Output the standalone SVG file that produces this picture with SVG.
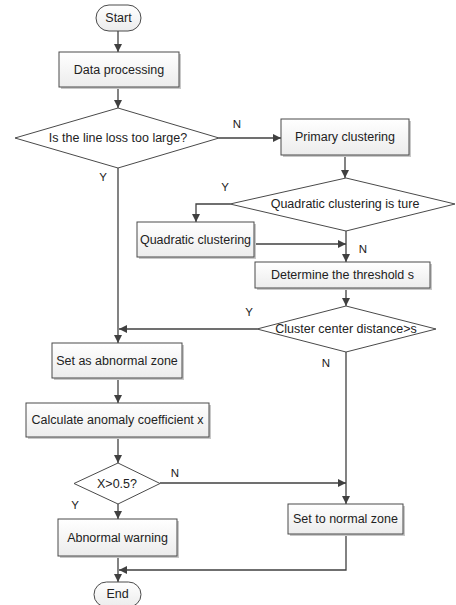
<svg xmlns="http://www.w3.org/2000/svg" width="456" height="605" viewBox="0 0 456 605">
<defs>
<linearGradient id="g" x1="0" y1="0" x2="0" y2="1"><stop offset="0" stop-color="#ffffff"/><stop offset="1" stop-color="#ececec"/></linearGradient>
<marker id="a" viewBox="0 0 10 10" refX="10" refY="5" markerWidth="8" markerHeight="8" markerUnits="userSpaceOnUse" orient="auto"><path d="M0,0 L10,5 L0,10 z" fill="#404040"/></marker>
</defs>
<style>
.box{fill:url(#g);stroke:#4a4a4a;stroke-width:1}
.sh{fill:#c8c8c8}
.dia{fill:#ffffff;stroke:#4a4a4a;stroke-width:1}
.t{font-family:"Liberation Sans",Arial,sans-serif;font-size:12.5px;fill:#222;text-anchor:middle;dominant-baseline:central}
.l{font-family:"Liberation Sans",Arial,sans-serif;font-size:11.5px;fill:#222;text-anchor:middle;dominant-baseline:central}
.c{fill:none;stroke:#404040;stroke-width:1.3}
</style>
<rect width="456" height="605" fill="#ffffff"/>
<g id="connectors">
<path class="c" d="M118,31 V52" marker-end="url(#a)"/>
<path class="c" d="M118,88 V108" marker-end="url(#a)"/>
<path class="c" d="M219,138 H281" marker-end="url(#a)"/>
<path class="c" d="M118,168 V343" marker-end="url(#a)"/>
<path class="c" d="M345,156 V178" marker-end="url(#a)"/>
<path class="c" d="M230,204 H196 V222" marker-end="url(#a)"/>
<path class="c" d="M255,244 H346" marker-end="url(#a)"/>
<path class="c" d="M346,231 V262" marker-end="url(#a)"/>
<path class="c" d="M346,288 V306" marker-end="url(#a)"/>
<path class="c" d="M257,329 H119" marker-end="url(#a)"/>
<path class="c" d="M346,352 V504" marker-end="url(#a)"/>
<path class="c" d="M118,378 V403" marker-end="url(#a)"/>
<path class="c" d="M118,437 V463" marker-end="url(#a)"/>
<path class="c" d="M160,483 H346" marker-end="url(#a)"/>
<path class="c" d="M118,504 V519" marker-end="url(#a)"/>
<path class="c" d="M118,556 V582" marker-end="url(#a)"/>
<path class="c" d="M346,534 V570 H119" marker-end="url(#a)"/>
<text class="l" x="237" y="124">N</text>
<text class="l" x="103" y="177">Y</text>
<text class="l" x="225" y="187">Y</text>
<text class="l" x="363" y="249">N</text>
<text class="l" x="249" y="312">Y</text>
<text class="l" x="326" y="363">N</text>
<text class="l" x="175" y="473">N</text>
<text class="l" x="75" y="505">Y</text>
</g>
<g id="start"><rect class="box" x="96" y="5" width="45" height="26" rx="13"/><text class="t" x="118.5" y="18">Start</text></g>
<g id="data"><rect class="sh" x="61" y="54" width="120" height="35"/><rect class="box" x="59" y="52" width="120" height="35"/><text class="t" x="119" y="70">Data processing</text></g>
<g id="d1"><polygon class="dia" points="118,108 219,138 118,168 15,138"/><text class="t" x="118" y="138">Is the line loss too large?</text></g>
<g id="primary"><rect class="sh" x="283" y="121" width="128" height="36"/><rect class="box" x="281" y="119" width="128" height="36"/><text class="t" x="345" y="137">Primary clustering</text></g>
<g id="d2"><polygon class="dia" points="346,178 455,204 346,231 230,204"/><text class="t" x="345" y="204">Quadratic clustering is ture</text></g>
<g id="qc"><rect class="sh" x="139" y="224" width="117" height="35"/><rect class="box" x="137" y="222" width="117" height="35"/><text class="t" x="195.5" y="239.5">Quadratic clustering</text></g>
<g id="threshold"><rect class="sh" x="257" y="264" width="175" height="26"/><rect class="box" x="255" y="262" width="175" height="26"/><text class="t" x="342.5" y="275">Determine the threshold s</text></g>
<g id="d3"><polygon class="dia" points="346,306 436,329 346,352 257,329"/><text class="t" x="346" y="329">Cluster center distance&gt;s</text></g>
<g id="abnormal"><rect class="sh" x="54" y="345" width="130" height="35"/><rect class="box" x="52" y="343" width="130" height="35"/><text class="t" x="117" y="360.5">Set as abnormal zone</text></g>
<g id="calc"><rect class="sh" x="28" y="405" width="183" height="34"/><rect class="box" x="26" y="403" width="183" height="34"/><text class="t" x="117.5" y="420">Calculate anomaly coefficient x</text></g>
<g id="d4"><polygon class="dia" points="118,463 160,483.5 118,504 74,483.5"/><text class="t" x="117" y="484">X&gt;0.5?</text></g>
<g id="warning"><rect class="sh" x="60" y="521" width="119" height="37"/><rect class="box" x="58" y="519" width="119" height="37"/><text class="t" x="117.5" y="537.5">Abnormal warning</text></g>
<g id="normal"><rect class="sh" x="290" y="506" width="115" height="30"/><rect class="box" x="288" y="504" width="115" height="30"/><text class="t" x="345.5" y="519">Set to normal zone</text></g>
<g id="end"><rect class="box" x="94" y="582" width="47" height="25" rx="12.5"/><text class="t" x="117.5" y="594">End</text></g>
</svg>
